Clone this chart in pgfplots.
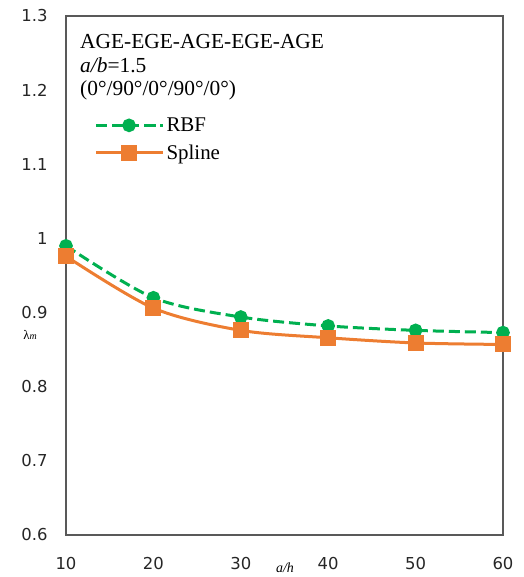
\documentclass[border=0pt]{standalone}
\usepackage{fontspec}
\setmainfont{Liberation Serif}
\newfontfamily\tickfont{DejaVu Sans}
\usepackage{pgfplots}
\pgfplotsset{compat=1.18}
\definecolor{rbfgreen}{RGB}{0,176,80}
\definecolor{splorange}{RGB}{237,125,49}
\begin{document}
\begin{tikzpicture}
\path[use as bounding box] (-66bp,-42bp) rectangle (458bp,535bp);
\begin{axis}[
  scale only axis, width=437bp, height=519bp,
  xmin=10, xmax=60, ymin=0.6, ymax=1.3,
  xtick={10,20,30,40,50,60},
  ytick={0.6,0.7,0.8,0.9,1.0,1.1,1.2,1.3},
  yticklabels={0.6,0.7,0.8,0.9,1,1.1,1.2,1.3},
  major tick length=0pt,
  /pgf/number format/assume math mode=true,
  tick label style={font=\tickfont\fontsize{16.5}{16.5}\selectfont, text=black!85},
  yticklabel style={xshift=-15bp},
  xticklabel style={yshift=-19bp},
  axis line style={draw=black!65, line width=1.2bp},
  clip=false,
  legend cell align=left,
  legend style={draw=none, fill=none, at={(rel axis cs:0.058,0.812)}, anchor=north west,
    font=\fontsize{21}{23}\selectfont, row sep=8bp},
  legend image code/.code={\draw[mark repeat=2,mark phase=2,#1] plot coordinates {(0bp,0bp) (33bp,0bp) (67bp,0bp)};},
]
\addplot[rbfgreen, line width=3bp, dash pattern=on 11bp off 5bp, smooth, tension=0.5,
  mark=*, mark size=5.3bp, mark options={solid, fill=rbfgreen, draw=rbfgreen}]
  coordinates {(10,0.990) (20,0.920) (30,0.894) (40,0.882) (50,0.876) (60,0.873)};
\addlegendentry{RBF}
\addplot[splorange, line width=3bp, smooth, tension=0.5,
  mark=square*, mark size=6.5bp, mark options={solid, fill=splorange, draw=splorange}]
  coordinates {(10,0.976) (20,0.906) (30,0.876) (40,0.866) (50,0.859) (60,0.857)};
\addlegendentry{Spline}
\node[anchor=west, font=\fontsize{21.5}{23}\selectfont, inner sep=0pt] at (rel axis cs:0.032,0.950) {AGE-EGE-AGE-EGE-AGE};
\node[anchor=west, font=\fontsize{21.5}{23}\selectfont, inner sep=0pt] at (rel axis cs:0.032,0.905) {\textit{a/b}=1.5};
\node[anchor=west, font=\fontsize{21.5}{23}\selectfont, inner sep=0pt] at (rel axis cs:0.032,0.857) {(0°/90°/0°/90°/0°)};
\node[font=\fontsize{13}{13}\selectfont] at (rel axis cs:-0.082,0.385) {λ\textit{\fontsize{10}{10}\selectfont m}};
\node[font=\fontsize{14}{14}\selectfont] at (rel axis cs:0.501,-0.064) {\textit{a/h}};
\end{axis}
\end{tikzpicture}
\end{document}
